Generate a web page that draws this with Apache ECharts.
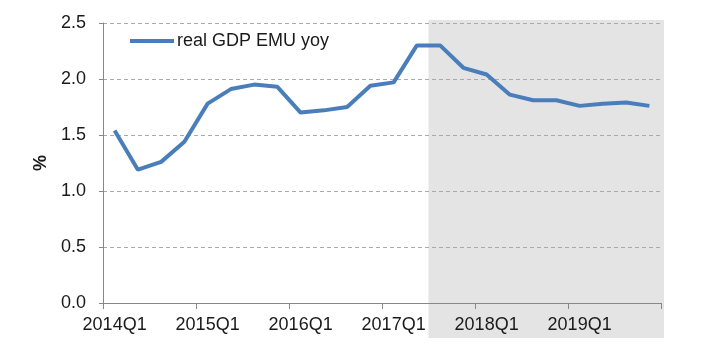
<!DOCTYPE html>
<html><head><meta charset="utf-8">
<script src="https://cdn.jsdelivr.net/npm/echarts@6/dist/echarts.min.js"></script>
<style>html,body{margin:0;padding:0;background:#fff}#c{width:703px;height:354px}</style>
</head><body><div id="c"></div>
<script>
const categories = ['2014Q1','2014Q2','2014Q3','2014Q4','2015Q1','2015Q2','2015Q3','2015Q4',
 '2016Q1','2016Q2','2016Q3','2016Q4','2017Q1','2017Q2','2017Q3','2017Q4',
 '2018Q1','2018Q2','2018Q3','2018Q4','2019Q1','2019Q2','2019Q3','2019Q4'];
const gdpYoy = [1.54,1.19,1.26,1.44,1.78,1.91,1.95,1.93,1.70,1.72,1.75,1.94,1.97,2.30,2.30,2.10,2.04,1.86,1.81,1.81,1.76,1.78,1.79,1.76];
const seriesName = 'real GDP EMU yoy';
const forecastStart = '2017Q3';
const yTicks = [0, 0.5, 1.0, 1.5, 2.0, 2.5];

const font = 'Liberation Sans';
const chart = echarts.init(document.getElementById('c'));
const option = {
  animation: false,
  grid: {left: 103, right: 42, top: 23, bottom: 51, containLabel: false},
  legend: {
    left: 125, top: 27, itemWidth: 44, itemHeight: 4, itemGap: 10,
    data: [{name: seriesName, icon: 'rect'}],
    textStyle: {fontFamily: font, fontSize: 18, color: '#1a1a1a', padding: [0,0,0,-2]}
  },
  xAxis: {
    type: 'category', data: categories, boundaryGap: true,
    axisLine: {lineStyle: {color: '#888', width: 1}},
    axisTick: {show: true, interval: 3, length: 6, lineStyle: {color: '#888'}},
    axisLabel: {interval: 3, fontFamily: font, fontSize: 18, color: '#1a1a1a', margin: 13},
    splitLine: {show: false}
  },
  yAxis: {
    type: 'value', min: 0, max: 2.5, interval: 0.5,
    name: '%', nameLocation: 'middle', nameGap: 53, nameRotate: 90,
    nameTextStyle: {fontFamily: font, fontSize: 18, fontWeight: 'bold', color: '#1a1a1a'},
    axisLine: {show: true, lineStyle: {color: '#888'}},
    axisTick: {show: true, length: 4, lineStyle: {color: '#888'}},
    axisLabel: {fontFamily: font, fontSize: 18, color: '#1a1a1a', margin: 17,
      formatter: v => yTicks.includes(v) ? v.toFixed(1) : ''},
    splitLine: {show: true, lineStyle: {color: '#aaa', type: [4,3], width: 1}}
  },
  series: [{
    name: seriesName, type: 'line', data: gdpYoy, symbol: 'none',
    lineStyle: {color: '#4A7EBB', width: 4}, itemStyle: {color: '#4A7EBB'}, z: 5
  }]
};
chart.setOption(option);

// forecast shading, positioned from the axes
const idx = categories.indexOf(forecastStart);
const c0 = chart.convertToPixel({gridIndex: 0}, [categories[idx], 0]);
const c1 = chart.convertToPixel({gridIndex: 0}, [categories[idx+1], 0]);
const band = c1[0] - c0[0];
const lastC = chart.convertToPixel({gridIndex: 0}, [categories[categories.length-1], 2.5]);
const x0 = c0[0] - band/2;
const x1 = lastC[0] + band/2 + 3;
const yTop = lastC[1] - 3;
const yBot = c0[1] + 35;
chart.setOption({graphic: [{type: 'rect', z: -10, silent: true,
  shape: {x: x0, y: yTop, width: x1 - x0, height: yBot - yTop},
  style: {fill: '#E4E4E4'}}]});
</script></body></html>
